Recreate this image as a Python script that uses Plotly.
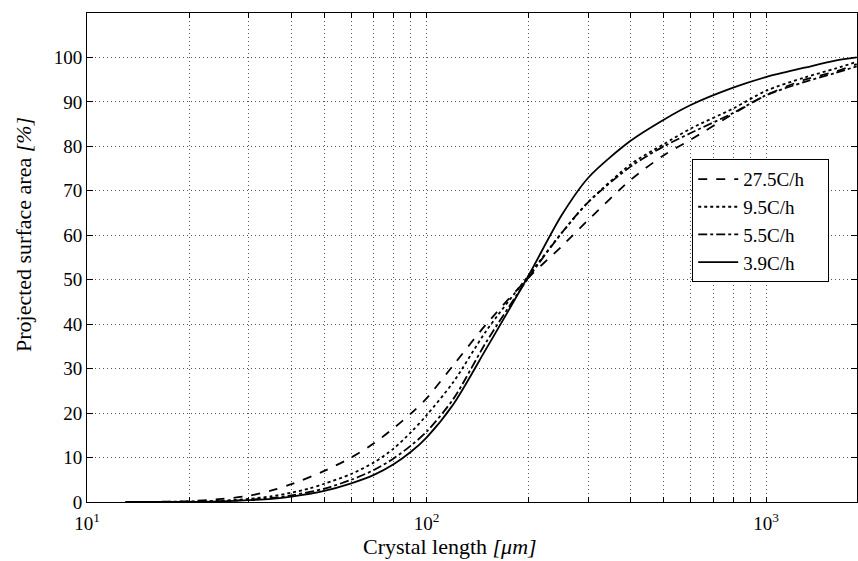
import plotly.graph_objects as go

# Cumulative projected surface area vs. crystal length for four cooling rates
x_275 = [13, 20, 25, 30, 35, 40, 50, 60, 70, 80, 90, 100, 120, 150, 200, 250, 300, 400, 500, 600, 800, 1000, 1300, 1600, 1850]
y_275 = [0, 0.2, 0.7, 1.4, 2.6, 4.0, 7.0, 10.0, 13.2, 16.6, 19.9, 23.3, 30.8, 40.0, 50.5, 57.5, 63.5, 72.5, 78.0, 81.5, 87.3, 91.5, 95.0, 96.8, 98.5]

x_95 = [13, 20, 25, 30, 35, 40, 45, 50, 60, 70, 80, 90, 100, 120, 150, 200, 250, 300, 400, 500, 600, 800, 1000, 1300, 1600, 1850]
y_95 = [0, 0.1, 0.3, 0.7, 1.3, 2.1, 3.0, 4.1, 6.3, 8.9, 12.0, 15.7, 19.5, 27.0, 38.5, 51.0, 60.5, 67.5, 76.0, 80.5, 84.0, 88.5, 92.5, 95.5, 97.5, 99.0]

x_55 = [13, 20, 25, 30, 35, 40, 50, 60, 70, 80, 90, 100, 120, 150, 200, 250, 300, 400, 500, 600, 800, 1000, 1300, 1600, 1850]
y_55 = [0, 0.05, 0.2, 0.5, 0.9, 1.5, 3.0, 5.0, 7.2, 9.8, 12.7, 15.8, 23.2, 36.0, 50.5, 60.5, 67.5, 75.5, 80.0, 83.0, 87.5, 91.5, 94.5, 96.5, 98.0]

x_39 = [13, 20, 25, 30, 35, 40, 50, 60, 70, 80, 90, 100, 120, 150, 200, 250, 300, 400, 500, 600, 800, 1000, 1300, 1600, 1850]
y_39 = [0, 0.05, 0.15, 0.4, 0.7, 1.2, 2.5, 4.2, 6.1, 8.5, 11.3, 14.5, 22.0, 34.5, 51.0, 64.5, 73.0, 81.3, 86.0, 89.3, 93.2, 95.6, 97.7, 99.3, 100.0]

series = [
    ("27.5C/h", x_275, y_275, "dash"),
    ("9.5C/h", x_95, y_95, "dot"),
    ("5.5C/h", x_55, y_55, "dashdot"),
    ("3.9C/h", x_39, y_39, "solid"),
]

y_ticks = [0, 10, 20, 30, 40, 50, 60, 70, 80, 90, 100]

# log-axis ticks: every 1..9 multiple per decade, labels only at decades
x_tickvals = []
x_ticktext = []
for exp in (1, 2, 3):
    for m in range(1, 10):
        v = m * 10 ** exp
        if v > 1900:
            break
        x_tickvals.append(v)
        x_ticktext.append(f"10<sup>{exp}</sup>" if m == 1 else "")

FONT = "Liberation Serif"
GRID = "#555"
PAD = "\u00a0" * 4  # widens the legend box on the right

fig = go.Figure()
for name, xs, ys, dash in series:
    fig.add_trace(go.Scatter(
        x=xs, y=ys, name=name + PAD, mode="lines",
        line=dict(color="black", width=1.8, dash=dash, shape="spline", smoothing=0.8),
    ))

fig.update_layout(
    width=858, height=561,
    margin=dict(l=87, r=1, t=13, b=59),
    paper_bgcolor="white", plot_bgcolor="white",
    font=dict(family=FONT, size=19, color="black"),
    showlegend=True,
    legend=dict(
        x=0.786, y=0.701, xanchor="left", yanchor="top",
        bgcolor="white", bordercolor="black", borderwidth=1,
        font=dict(family=FONT, size=19, color="black"),
        tracegroupgap=0, itemwidth=40,
    ),
    annotations=[
        dict(text="Crystal length <i>[μm]</i>", xref="paper", yref="paper",
             x=0.4714, y=-0.092, xanchor="center", yanchor="middle",
             showarrow=False, font=dict(family=FONT, size=22)),
        dict(text="Projected surface area <i>[%]</i>", xref="paper", yref="paper",
             x=-0.0831, y=0.546, xanchor="center", yanchor="middle", textangle=-90,
             showarrow=False, font=dict(family=FONT, size=22)),
    ],
)

fig.update_xaxes(
    type="log", range=[1, 3.268],
    tickmode="array", tickvals=x_tickvals, ticktext=x_ticktext,
    ticks="inside", ticklen=5, tickcolor="black", tickwidth=1,
    ticklabelstandoff=4,
    showline=True, linecolor="black", linewidth=1, mirror="ticks",
    showgrid=True, gridcolor=GRID, gridwidth=1, griddash="1px,3px",
    zeroline=False,
    tickfont=dict(family=FONT, size=19),
)

fig.update_yaxes(
    range=[0, 110],
    tickmode="array", tickvals=y_ticks,
    ticks="inside", ticklen=6, tickcolor="black", tickwidth=1,
    showline=True, linecolor="black", linewidth=1, mirror="ticks",
    showgrid=True, gridcolor=GRID, gridwidth=1, griddash="1px,3px",
    zeroline=False,
    tickfont=dict(family=FONT, size=19),
)

fig.write_html("out.html")
